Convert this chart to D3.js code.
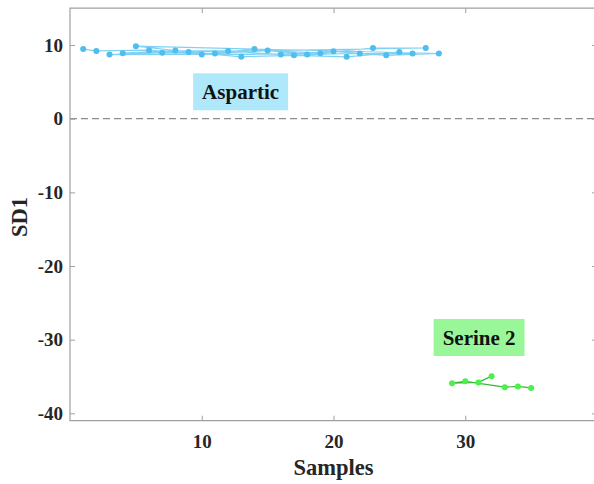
<!DOCTYPE html>
<html>
<head>
<meta charset="utf-8">
<script src="https://cdn.jsdelivr.net/npm/d3@7"></script>
<style>
    body { margin: 0; background: #fff; }
</style>
</head>
<body>
<script>
// samples on the x axis
const asparticSamples = [1, 2, 3, 4, 5, 6, 7, 8, 9, 10, 11, 12, 13, 14, 15, 16, 17, 18, 19, 20, 21, 22, 23, 24, 25, 26, 27, 28]
const asparticSD1 = [9.45, 9.2, 8.7, 8.9, 9.85, 9.3, 8.95, 9.25, 9.05, 8.7, 8.85, 9.2, 8.4, 9.45,
    9.25, 8.7, 8.6, 8.7, 8.9, 9.15, 8.4, 8.85, 9.6, 8.6, 9.05, 8.85, 9.6, 8.85]
// order in which the points are joined by the line
const asparticOrder = [1, 2, 6, 10, 14, 18, 22, 26, 3, 7, 11, 15, 19, 23, 27,
    4, 8, 12, 16, 20, 24, 28, 5, 9, 13, 17, 21, 25]

const serineSamples = [29, 30, 31, 32, 33, 34, 35]
const serineSD1 = [-35.9, -35.65, -35.8, -34.95, -36.45, -36.35, -36.55]
const serineOrder = [32, 31, 29, 30, 33, 34, 35]

const xTicks = [10, 20, 30]
const yTicks = [10, 0, -10, -20, -30, -40]

const labels = [
    { text: 'Aspartic', x: 12.95, y: 3.65, fill: '#aee8fa' },
    { text: 'Serine 2', x: 31.05, y: -29.7, fill: '#99f799' },
]

const width = 594
const height = 484
const font = '"Liberation Serif", "Times New Roman", serif'
const axisColor = '#a0a0a0'
const textColor = '#262626'

const x = d3.scaleLinear().domain([0, 40]).range([70, 597])
const y = d3.scaleLinear().domain([-41, 15]).range([420.7, 8.2])

const svg = d3.select('body').append('svg')
    .attr('width', width)
    .attr('height', height)
    .attr('viewBox', [0, 0, width, height])

svg.append('rect')
    .attr('width', width)
    .attr('height', height)
    .attr('fill', '#fff')

// zero line
svg.append('line')
    .attr('x1', x(0))
    .attr('x2', x(40))
    .attr('y1', y(0))
    .attr('y2', y(0))
    .attr('stroke', '#8c8c8c')
    .attr('stroke-width', 1.3)
    .attr('stroke-dasharray', '7,4')

function styleAxis(g, showText) {
    g.select('.domain').remove()
    g.selectAll('.tick line').attr('stroke', axisColor)
    g.selectAll('.tick text')
        .attr('fill', textColor)
        .attr('font-family', font)
        .attr('font-weight', 'bold')
        .attr('font-size', 19)
    if (!showText) g.selectAll('.tick text').remove()
}

// plain hyphen for negatives, like the original
const tickText = d => String(d)

svg.append('g')
    .attr('transform', `translate(0,${y(-41)})`)
    .call(d3.axisBottom(x).tickValues(xTicks).tickFormat(tickText)
        .tickSizeInner(-5).tickSizeOuter(0).tickPadding(14))
    .call(g => styleAxis(g, true))

svg.append('g')
    .attr('transform', `translate(0,${y(15)})`)
    .call(d3.axisTop(x).tickValues(xTicks).tickSizeInner(-5).tickSizeOuter(0))
    .call(g => styleAxis(g, false))

svg.append('g')
    .attr('transform', `translate(${x(0)},0)`)
    .call(d3.axisLeft(y).tickValues(yTicks).tickFormat(tickText)
        .tickSizeInner(-5).tickSizeOuter(0).tickPadding(7))
    .call(g => styleAxis(g, true))

svg.append('g')
    .attr('transform', `translate(${x(40)},0)`)
    .call(d3.axisRight(y).tickValues(yTicks).tickSizeInner(-5).tickSizeOuter(0))
    .call(g => styleAxis(g, false))

// axes box
svg.append('path')
    .attr('d', `M${x(40)},${y(15)}H${x(0)}V${y(-41)}H${x(40)}`)
    .attr('fill', 'none')
    .attr('stroke', axisColor)
    .attr('stroke-width', 1.2)

function drawSeries(samples, values, order, lineColor, markerColor, lineOpacity) {
    const bySample = new Map(samples.map((s, i) => [s, values[i]]))
    const pts = order.map(s => [s, bySample.get(s)])
    const line = d3.line().x(d => x(d[0])).y(d => y(d[1]))

    svg.append('path')
        .datum(pts)
        .attr('d', line)
        .attr('fill', 'none')
        .attr('stroke', lineColor)
        .attr('stroke-opacity', lineOpacity)
        .attr('stroke-width', 1.2)

    svg.append('g')
        .selectAll('circle')
        .data(samples)
        .join('circle')
            .attr('cx', d => x(d))
            .attr('cy', (d, i) => y(values[i]))
            .attr('r', 3)
            .attr('fill', markerColor)
}

drawSeries(asparticSamples, asparticSD1, asparticOrder, '#4dbeee', '#4dbeee', 0.7)
drawSeries(serineSamples, serineSD1, serineOrder, '#22b022', '#4def4d', 0.9)

// text boxes
labels.forEach(l => {
    const g = svg.append('g')
    const rect = g.append('rect').attr('fill', l.fill)
    const t = g.append('text')
        .attr('x', x(l.x))
        .attr('y', y(l.y))
        .attr('dy', '0.35em')
        .attr('text-anchor', 'middle')
        .attr('font-family', font)
        .attr('font-weight', 'bold')
        .attr('font-size', 21)
        .attr('fill', '#111')
        .text(l.text)
    const bb = t.node().getBBox()
    rect.attr('x', bb.x - 9)
        .attr('y', y(l.y) - 18.5)
        .attr('width', bb.width + 18)
        .attr('height', 37)
})

// axis titles
svg.append('text')
    .attr('transform', `translate(27,217) rotate(-90)`)
    .attr('text-anchor', 'middle')
    .attr('font-family', font)
    .attr('font-weight', 'bold')
    .attr('font-size', 22.5)
    .attr('fill', textColor)
    .text('SD1')

svg.append('text')
    .attr('x', (x(0) + x(40)) / 2)
    .attr('y', 475)
    .attr('text-anchor', 'middle')
    .attr('font-family', font)
    .attr('font-weight', 'bold')
    .attr('font-size', 22.5)
    .attr('fill', textColor)
    .text('Samples')
</script>
</body>
</html>
